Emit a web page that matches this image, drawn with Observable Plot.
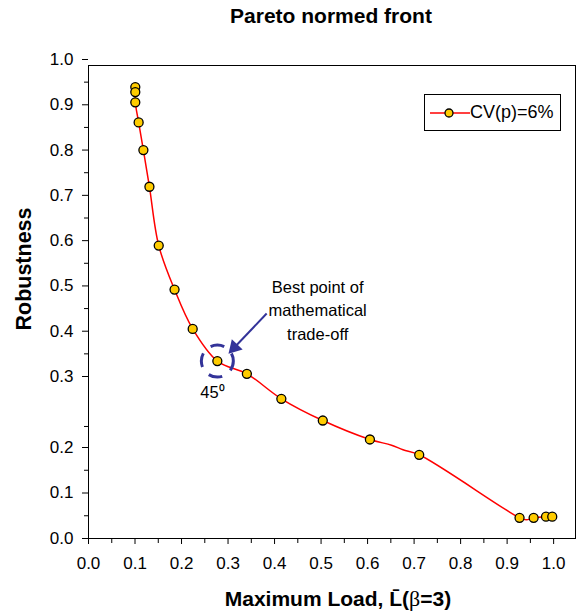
<!DOCTYPE html>
<html>
<head>
<meta charset="utf-8">
<script src="https://cdn.jsdelivr.net/npm/d3@7"></script>
<script src="https://cdn.jsdelivr.net/npm/@observablehq/plot@0.6"></script>
<style>
  body { margin: 0; background: #fff; }
  #wrap { position: relative; width: 583px; height: 616px; overflow: hidden; font-family: "Liberation Sans", Arial, sans-serif; color: #000; }
  #wrap > svg { position: absolute; left: 0; top: 0; }
  .abs { position: absolute; white-space: nowrap; }
  #title { left: 81px; width: 500px; top: 5px; text-align: center; font-weight: bold; font-size: 21px; line-height: 21px; }
  #xlabel { left: 88px; width: 500px; top: 588px; text-align: center; font-weight: bold; font-size: 21px; line-height: 21px; }
  #xlabel .beta { font-family: "Liberation Serif", "DejaVu Serif", serif; font-weight: normal; font-size: 22px; }
  #ylabel { left: -76px; width: 200px; top: 257px; height: 24px; line-height: 24px; text-align: center; font-weight: bold; font-size: 21.5px; transform: rotate(-90deg); }
  #legend { left: 424px; top: 94px; width: 137px; height: 37px; box-sizing: border-box; border: 1px solid #000; background: #fff; }
  #legend svg { position: absolute; left: 5px; top: 12px; }
  #legend span { position: absolute; left: 45px; top: 0; line-height: 35px; font-size: 18px; }
</style>
</head>
<body>
<div id="wrap">
  <div id="title" class="abs">Pareto normed front</div>
  <div id="ylabel" class="abs">Robustness</div>
  <div id="xlabel" class="abs">Maximum Load, L&#772;(<span class="beta">β</span>=3)</div>
</div>
<script>
// ---- data ----
const seriesName = "CV(p)=6%";
const loadX   = [0.1006, 0.1006, 0.1006, 0.1078, 0.118, 0.131, 0.151, 0.185, 0.224, 0.277, 0.3405, 0.4146, 0.5037, 0.605, 0.711, 0.9267, 0.957, 0.9836, 0.997];
const robustY = [0.939, 0.928, 0.9055, 0.861, 0.800, 0.719, 0.589, 0.492, 0.405, 0.334, 0.306, 0.2686, 0.238, 0.2113, 0.184, 0.0455, 0.0455, 0.048, 0.048];
// unmarked vertices of the red curve
const curveX = [0.6515, 0.6761, 0.941];
const curveY = [0.2032, 0.195, 0.041];
const bestIndex = 9;

// axis ticks
const xMajor = [0, 0.1, 0.2, 0.3, 0.4, 0.5, 0.6, 0.7, 0.8, 0.9, 1.0];
const xMinor = [0.05, 0.15, 0.25, 0.35, 0.45, 0.55, 0.65, 0.75, 0.85, 0.95];
const yMajor = [0, 0.1, 0.2, 0.3, 0.4, 0.5, 0.6, 0.7, 0.8, 0.9, 1.0];
const yMinor = [0.05, 0.15, 0.2296, 0.35, 0.45, 0.55, 0.65, 0.75, 0.85, 0.95];
// the printed y axis is broken between 0.2 and 0.3
const yBreaks = [0, 0.2, 0.3, 1.0];

// annotations
const noteText = ["Best point of\nmathematical\ntrade-off"];
const noteX = [0.4927], noteY = [0.4495];
const angleText = ["45⁰"];
const angleX = [0.2666], angleY = [0.2775];
const arrowFrom = {x: 0.383, y: 0.439};
const arrowTo = {x: 0.3135, y: 0.364};

// ---- build tables ----
const points = loadX.map((x, i) => ({x, y: robustY[i]}));
const curve = points.concat(curveX.map((x, i) => ({x, y: curveY[i]})))
  .sort((a, b) => a.x - b.x || b.y - a.y);

const chart = Plot.plot({
  width: 583,
  height: 616,
  marginLeft: 88,
  marginRight: 8,
  marginTop: 65,
  marginBottom: 78,
  style: {fontFamily: "'Liberation Sans', Arial, sans-serif", fontSize: "17px", color: "#000", background: "transparent", overflow: "visible"},
  x: {type: "linear", domain: [0, 1.047], label: null, nice: false},
  y: {type: "linear", domain: yBreaks, range: [538, 447, 376, 59], label: null, nice: false},
  marks: [
    Plot.frame({stroke: "#000", strokeWidth: 1}),
    Plot.axisX({ticks: xMinor, tickSize: 5, tickFormat: () => "", label: null}),
    Plot.axisX({ticks: xMajor, tickSize: 6, tickPadding: 12, tickFormat: d => d.toFixed(1), label: null, fontSize: 17}),
    Plot.axisY({ticks: yMinor, tickSize: 4, tickFormat: () => "", label: null}),
    Plot.axisY({ticks: yMajor, tickSize: 6, tickPadding: 9, tickFormat: d => d.toFixed(1), label: null, fontSize: 17}),
    Plot.line(curve, {x: "x", y: "y", stroke: "#ff0000", strokeWidth: 1.5, curve: "catmull-rom"}),
    Plot.dot([points[bestIndex]], {x: "x", y: "y", r: 16, fill: "none", stroke: "#333399", strokeWidth: 3, strokeDasharray: "14,10", strokeDashoffset: 4}),
    Plot.link([{x1: arrowFrom.x, y1: arrowFrom.y, x2: arrowTo.x, y2: arrowTo.y}], {x1: "x1", y1: "y1", x2: "x2", y2: "y2", stroke: "#333399", strokeWidth: 2}),
    Plot.dot([arrowTo], {x: "x", y: "y", symbol: "triangle", r: 5.5, fill: "#333399", stroke: "none", rotate: 223}),
    Plot.dot(points, {x: "x", y: "y", r: 4.5, fill: "#ffcc00", stroke: "#000", strokeWidth: 1.3}),
    Plot.text(noteText, {x: noteX, y: noteY, text: d => d, fontSize: 16.5, lineHeight: 1.42, textAnchor: "middle", fill: "#000"}),
    Plot.text(angleText, {x: angleX, y: angleY, text: d => d, fontSize: 16.5, textAnchor: "middle", fill: "#000"})
  ]
});

const wrap = document.getElementById("wrap");
wrap.insertBefore(chart, wrap.firstChild);

// legend
const legend = document.createElement("div");
legend.id = "legend";
legend.className = "abs";
legend.innerHTML = `<svg width="42" height="12"><line x1="0" x2="40" y1="6" y2="6" stroke="#ff0000" stroke-width="1.5"/><circle cx="19" cy="6" r="4" fill="#ffcc00" stroke="#000" stroke-width="1.3"/></svg><span></span>`;
legend.querySelector("span").textContent = seriesName;
wrap.appendChild(legend);
</script>
</body>
</html>
